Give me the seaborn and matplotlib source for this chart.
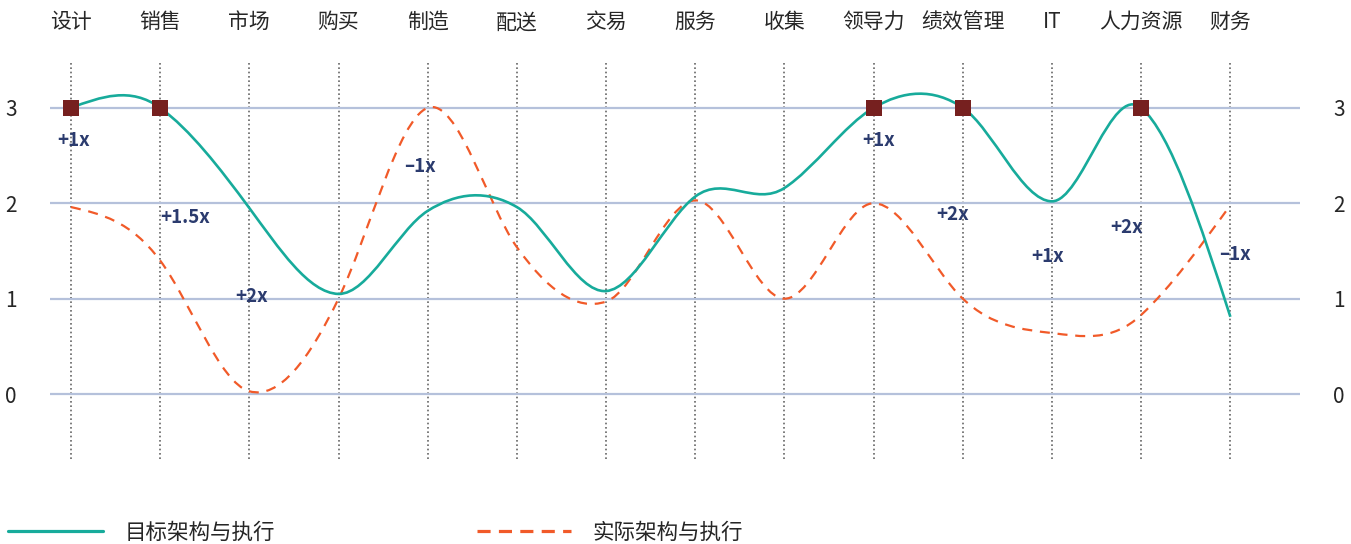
import numpy as np
import pandas as pd
import matplotlib
matplotlib.use('Agg')
import matplotlib.pyplot as plt
from matplotlib.path import Path
from matplotlib.patches import PathPatch
from matplotlib.lines import Line2D
import seaborn as sns

# values
categories = ['设计', '销售', '市场', '购买', '制造', '配送', '交易', '服务',
              '收集', '领导力', '绩效管理', 'IT', '人力资源', '财务']
target = [3, 3, 1.95, 1.05, 1.92, 1.96, 1.08, 2.07, 2.16, 3, 3, 2.02, 3, 0.81]
actual = [1.96, 1.40, 0.03, 1.0, 3.0, 1.54, 0.97, 2.03, 1.0, 2.0, 1.0, 0.64, 0.83, 1.98]
milestones = ['设计', '销售', '领导力', '绩效管理', '人力资源']
multipliers = ['+1x', '+1.5x', '+2x', '–1x', '+1x', '+2x', '+1x', '+2x', '–1x']
multiplier_pos = [(0.03, 2.66), (1.28, 1.85), (2.02, 1.02), (3.91, 2.38), (9.06, 2.66),
                  (9.88, 1.88), (10.95, 1.44), (11.84, 1.75), (13.05, 1.46)]
series_names = ['目标架构与执行', '实际架构与执行']

TEAL = '#17ab9b'
ORANGE = '#f15a29'
NAVY = '#2b3b6e'
TEXT = '#262626'

sns.set_theme(style='white')
plt.rcParams['font.family'] = ['Noto Sans CJK SC', 'DejaVu Sans']


def smooth_path(xs, ys, c=1.3):
    # cardinal-style bezier through the points (slightly loose tension)
    xs = np.asarray(xs, dtype=float)
    ys = np.asarray(ys, dtype=float)
    n = len(ys)
    m = np.zeros(n)
    m[1:-1] = c * (ys[2:] - ys[:-2]) / 2
    m[0] = (3 * (ys[1] - ys[0]) - m[1]) / 2
    m[-1] = (3 * (ys[-1] - ys[-2]) - m[-2]) / 2
    verts = [(xs[0], ys[0])]
    codes = [Path.MOVETO]
    for i in range(n - 1):
        h = xs[i + 1] - xs[i]
        verts += [(xs[i] + h / 3, ys[i] + m[i] * h / 3),
                  (xs[i + 1] - h / 3, ys[i + 1] - m[i + 1] * h / 3),
                  (xs[i + 1], ys[i + 1])]
        codes += [Path.CURVE4] * 3
    return Path(verts, codes)


df = pd.DataFrame({'cat': categories, 'x': np.arange(len(categories)),
                   'target': target, 'actual': actual})

fig = plt.figure(figsize=(13.51, 5.44), dpi=100)
ax = fig.add_axes([0.037, 0.1562, 0.9252, 0.7316])

ax.add_patch(PathPatch(smooth_path(df['x'], df['actual']), fill=False,
                       edgecolor=ORANGE, lw=1.6, linestyle=(0, (4.5, 3.5)), zorder=3))
ax.add_patch(PathPatch(smooth_path(df['x'], df['target']), fill=False,
                       edgecolor=TEAL, lw=1.9, zorder=4))

ms = df[df['cat'].isin(milestones)]
sns.scatterplot(data=ms, x='x', y='target', marker='s', s=135, color='#76201f',
                linewidth=0, zorder=5, ax=ax, legend=False)

for label, (px, py) in zip(multipliers, multiplier_pos):
    ax.text(px, py, label, ha='center', va='center', fontsize=13.5,
            color=NAVY, fontweight='bold', zorder=6)

ax.set_xlim(-0.235, 13.78)
ax.set_ylim(-0.68, 3.49)
ax.set_xticks(df['x'])
ax.set_xticklabels(categories)
ax.xaxis.tick_top()
ax.set_yticks([0, 1, 2, 3])
ax.set_xlabel('')
ax.set_ylabel('')
ax.tick_params(axis='x', length=0, pad=20, labelsize=15, colors=TEXT)
ax.tick_params(axis='y', length=0, pad=24, labelsize=15, colors=TEXT,
               labelleft=True, labelright=True)
ax.grid(axis='y', color='#b5c1db', lw=1.6)
ax.grid(axis='x', color='#666666', lw=1.2, linestyle=(0, (1, 1.6)))
ax.set_axisbelow(True)
sns.despine(ax=ax, left=True, bottom=True, right=True, top=True)

handles = [Line2D([], [], color=TEAL, lw=2.3),
           Line2D([], [], color=ORANGE, lw=2.3, linestyle=(0, (4.1, 2.6)))]
fig.legend(handles, series_names, loc='center left', bbox_to_anchor=(0.006, 1 - 533 / 544),
           ncol=2, frameon=False, handlelength=4.4, handletextpad=1.0, columnspacing=9.37,
           fontsize=15.5, borderpad=0, borderaxespad=0, labelcolor=TEXT)

fig.savefig('out.png', dpi=100)
